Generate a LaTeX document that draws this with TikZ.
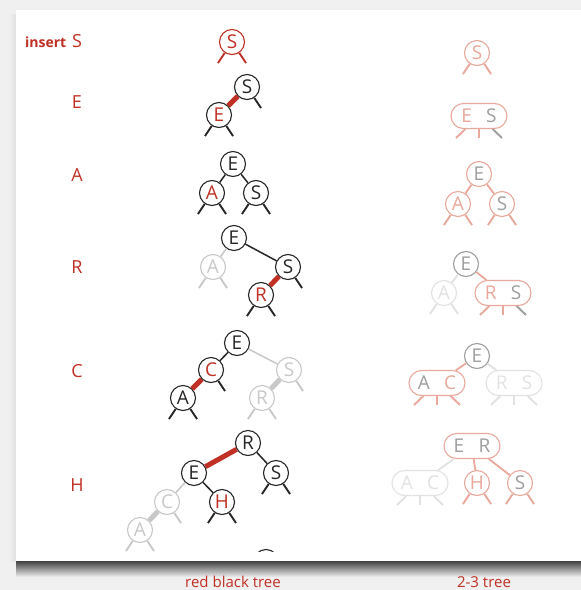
\documentclass[tikz,border=0pt]{standalone}
\usepackage{fontspec}
\setmainfont{Open Sans}
\usetikzlibrary{shapes.misc}
\definecolor{slidebg}{RGB}{240,240,240}
\definecolor{rbred}{RGB}{193,48,36}
\definecolor{fadegray}{RGB}{200,200,200}
\definecolor{ttpink}{RGB}{233,168,155}
\definecolor{ttgray}{RGB}{158,158,158}
\definecolor{ttlight}{RGB}{226,226,226}

\begin{document}
\begin{tikzpicture}[x=1pt, y=-1pt,
  key/.style={circle, draw=black!85, line width=1.1pt, fill=white,
              minimum size=25pt, inner sep=0pt, text=black!85,
              font=\fontsize{19}{19}\selectfont},
  redkey/.style={key, text=rbred},
  newkey/.style={key, draw=rbred, text=rbred},
  fadekey/.style={key, draw=fadegray, text=fadegray},
  two/.style={key, draw=ttpink, text=ttgray},
  graytwo/.style={two, draw=ttgray},
  lighttwo/.style={two, draw=ttlight, text=ttlight},
  three/.style={two, rounded rectangle, minimum width=56pt},
  lightthree/.style={three, draw=ttlight, text=ttlight},
  leg/.style={line width=1.9pt, black!85},
  newleg/.style={leg, rbred},
  fadeleg/.style={leg, fadegray},
  ttleg/.style={leg, ttpink},
  grayleg/.style={leg, ttgray},
  lightleg/.style={leg, ttlight},
  link/.style={line width=1.5pt, black!85},
  redlink/.style={line width=5pt, rbred},
  fadelink/.style={link, fadegray},
  fadefat/.style={redlink, fadegray},
  ttlink/.style={line width=1.8pt, ttpink},
  lightlink/.style={ttlink, ttlight},
  lbl/.style={text=rbred, font=\fontsize{18}{18}\selectfont}]
  \useasboundingbox (0,0) rectangle (581,590);
  % slide background and panel
  \fill[slidebg] (0,0) rectangle (581,590);
  \shade[top color=black!75, bottom color=slidebg] (16,561) rectangle (581,577);
  \shade[left color=slidebg, right color=black!12] (9,14) rectangle (16,561);
  \fill[white] (16,10) rectangle (581,561);
  % the keys inserted, one per row
  \node[lbl] (lS) at (77,41) {S};
  \node[lbl, anchor=base east, inner xsep=2pt,
        font=\fontsize{14}{14}\selectfont\bfseries] (lins) at (lS.base west) {insert};
  \node[lbl] (lE) at (77,102) {E};
  \node[lbl] (lA) at (77,175) {A};
  \node[lbl] (lR) at (77,267) {R};
  \node[lbl] (lC) at (77,371) {C};
  \node[lbl] (lH) at (77,485) {H};
  \begin{scope}
  \clip (16,10) rectangle (581,551);
  % red black tree, left
  \node[newkey] (r1s) at (232,42) {S};
  \node[key] (r2s) at (247,87) {S};
  \node[redkey] (r2e) at (219,115) {E};
  \draw[redlink] (r2e) -- (r2s);
  \node[key] (r3e) at (233,164) {E};
  \node[redkey] (r3a) at (212,193) {A};
  \node[key] (r3s) at (256,193) {S};
  \draw[link] (r3e) -- (r3a); \draw[link] (r3e) -- (r3s);
  \node[key] (r4e) at (234,238) {E};
  \node[fadekey] (r4a) at (213,267) {A};
  \node[key] (r4s) at (288,267) {S};
  \node[redkey] (r4r) at (261,295) {R};
  \draw[fadelink] (r4e) -- (r4a); \draw[link] (r4e) -- (r4s);
  \draw[redlink] (r4s) -- (r4r);
  \node[key] (r5e) at (237,343) {E};
  \node[redkey] (r5c) at (211,370) {C};
  \node[key] (r5a) at (183,398) {A};
  \node[fadekey] (r5s) at (289,370) {S};
  \node[fadekey] (r5r) at (262,398) {R};
  \draw[link] (r5e) -- (r5c); \draw[redlink] (r5c) -- (r5a);
  \draw[fadelink] (r5e) -- (r5s); \draw[fadefat] (r5s) -- (r5r);
  \node[key] (r6r) at (248,443) {R};
  \node[key] (r6e) at (194,473) {E};
  \node[key] (r6s) at (276,473) {S};
  \node[redkey] (r6h) at (222,502) {H};
  \node[fadekey] (r6c) at (167,502) {C};
  \node[fadekey] (r6a) at (140,530) {A};
  \node[key] (r7) at (266,562) {};
  \draw[redlink] (r6r) -- (r6e); \draw[link] (r6r) -- (r6s);
  \draw[link] (r6e) -- (r6h); \draw[fadelink] (r6e) -- (r6c);
  \draw[fadefat] (r6c) -- (r6a);
  % 2-3 tree, right
  \node[two, draw=ttpink, text=ttpink] (t1s) at (477,53) {S};
  \node[three] (t2es) at (479,116) {\textcolor{ttpink}{E}\hspace{0.75em}S};
  \node[two] (t3e) at (479,174) {E};
  \node[two, text=ttpink] (t3a) at (458,204) {A};
  \node[two] (t3s) at (502,204) {S};
  \draw[ttlink] (t3e) -- (t3a); \draw[ttlink] (t3e) -- (t3s);
  \node[graytwo] (t4e) at (466,264) {E};
  \node[lighttwo] (t4a) at (444,293) {A};
  \node[three] (t4rs) at (503,293) {\textcolor{ttpink}{R}\hspace{0.75em}S};
  \draw[lightlink] (t4e) -- (t4a); \draw[ttlink] (t4e) -- (t4rs);
  \node[graytwo] (t5e) at (477,356) {E};
  \node[three] (t5ac) at (437,383) {A\hspace{0.75em}\textcolor{ttpink}{C}};
  \node[lightthree] (t5rs) at (514,383) {R\hspace{0.75em}S};
  \draw[ttlink] (t5e) -- (t5ac); \draw[lightlink] (t5e) -- (t5rs);
  \node[three] (t6er) at (472,446) {E\hspace{0.75em}R};
  \node[lightthree] (t6ac) at (420,483) {A\hspace{0.75em}C};
  \node[two, text=ttpink] (t6h) at (477,483) {H};
  \node[two] (t6s) at (520,483) {S};
  \draw[lightlink] (t6er) -- (t6ac); \draw[ttlink] (t6er) -- (t6h);
  \draw[ttlink] (t6er) -- (t6s);
  % null links below the leaves
  \foreach \nd/\s in {r1s/newleg, r2e/leg, r3a/leg, r3s/leg, r4a/fadeleg,
      r4r/leg, r5a/leg, r5r/fadeleg, r6s/leg, r6h/leg, r6a/fadeleg,
      t1s/ttleg, t3a/ttleg, t3s/ttleg, t4a/lightleg, t6h/ttleg, t6s/ttleg}
    {\path (\nd) ++(-14,21) coordinate (\nd-l) ++(28,0) coordinate (\nd-r);
     \draw[\s] (\nd) -- (\nd-l); \draw[\s] (\nd) -- (\nd-r);}
  \foreach \nd/\s in {r2s/leg, r4s/leg, r5c/leg, r5s/fadeleg, r6c/fadeleg}
    {\path (\nd) ++(14,21) coordinate (\nd-r); \draw[\s] (\nd) -- (\nd-r);}
  \foreach \nd/\a/\b in {t2es/ttleg/grayleg, t4rs/ttleg/grayleg,
      t5ac/ttleg/ttleg, t5rs/lightleg/lightleg, t6ac/lightleg/lightleg}
    {\path (\nd) ++(-23,22) coordinate (\nd-l) ++(23,0) coordinate (\nd-m)
       ++(23,0) coordinate (\nd-r);
     \draw[\a] (\nd) -- (\nd-l); \draw[\a] (\nd) -- (\nd-m);
     \draw[\b] (\nd) -- (\nd-r);}
  \end{scope}
  % captions under the panel
  \node[text=rbred, font=\fontsize{15}{15}\selectfont] (cap1) at (233,582) {red black tree};
  \node[text=rbred, font=\fontsize{15}{15}\selectfont] (cap2) at (484,582) {2-3 tree};
\end{tikzpicture}
\end{document}
